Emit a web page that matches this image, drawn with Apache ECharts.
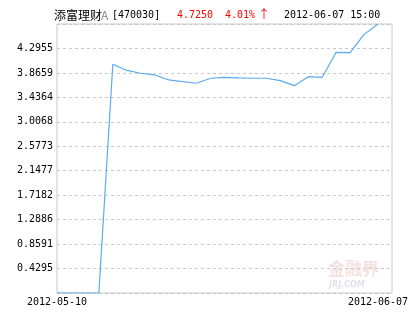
<!DOCTYPE html>
<html>
<head>
<meta charset="utf-8">
<script src="https://cdn.jsdelivr.net/npm/echarts@6/dist/echarts.min.js"></script>
<style>
html,body{margin:0;padding:0;background:#fff;}
#c{width:415px;height:330px;}
</style>
</head>
<body>
<div id="c"></div>
<script>
var fundName = '添富理财';
var fundClass = 'A';
var fundCode = '[470030]';
var lastValue = '4.7250';
var changePct = '4.01%';
var changeArrow = '↑';
var lastTime = '2012-06-07 15:00';

var dates = [
  '2012-05-10','2012-05-11','2012-05-13','2012-05-14','2012-05-15','2012-05-16',
  '2012-05-17','2012-05-18','2012-05-20','2012-05-21','2012-05-22','2012-05-23',
  '2012-05-24','2012-05-25','2012-05-27','2012-05-28','2012-05-29','2012-05-30',
  '2012-05-31','2012-06-01','2012-06-04','2012-06-05','2012-06-06','2012-06-07'
];
var values = [
  0, 0, 0, 0, 4.018, 3.909, 3.860, 3.830, 3.742, 3.712, 3.684, 3.772,
  3.789, 3.777, 3.772, 3.772, 3.730, 3.642, 3.800, 3.789, 4.228, 4.221, 4.543, 4.725
];
var yMin = 0;
var yMax = 4.725;
var ySteps = 11;

var cats = dates.concat(['']);
var lastIdx = dates.length - 1;
var mono = '"DejaVu Sans Mono", "Liberation Mono", monospace';

var chart = echarts.init(document.getElementById('c'), null, {renderer: 'canvas'});
chart.setOption({
  animation: false,
  backgroundColor: '#fff',
  grid: {left: 57, right: 23, top: 24, bottom: 37, show: true, borderColor: '#c8c8c8', borderWidth: 1},
  graphic: [
    {type: 'text', left: 54, top: 9, style: {text: fundName, font: '12px "Noto Sans CJK SC"', fill: '#000'}},
    {type: 'text', left: 101, top: 9, style: {text: fundClass, font: '12px "Noto Sans CJK SC"', fill: '#888'}},
    {type: 'text', left: 112, top: 10, style: {text: fundCode, font: '10px ' + mono, fill: '#000'}},
    {type: 'text', left: 177, top: 10, style: {text: lastValue, font: '10px ' + mono, fill: '#f00'}},
    {type: 'text', left: 225, top: 10, style: {text: changePct, font: '10px ' + mono, fill: '#f00'}},
    {type: 'text', left: 258, top: 8, style: {text: changeArrow, font: '12px "Noto Sans CJK SC"', fill: '#f00'}},
    {type: 'text', left: 284, top: 10, style: {text: lastTime, font: '10px ' + mono, fill: '#000'}},
    {type: 'text', left: 328, top: 260, z: -1, style: {text: '金融界', font: 'bold 17px "Noto Sans CJK SC"', fill: 'rgba(230,170,170,0.35)'}},
    {type: 'text', left: 329, top: 281, z: -1, style: {text: 'JRJ.COM', font: 'italic bold 8px "DejaVu Sans"', fill: 'rgba(180,180,200,0.4)'}}
  ],
  xAxis: {
    type: 'category',
    data: cats,
    boundaryGap: false,
    axisLine: {show: false},
    axisTick: {show: false},
    splitLine: {show: false},
    axisLabel: {
      interval: function (i) { return i === 0 || i === lastIdx; },
      color: '#000',
      fontFamily: mono,
      fontSize: 10,
      margin: 4
    }
  },
  yAxis: {
    type: 'value',
    min: yMin,
    max: yMax,
    interval: (yMax - yMin) / ySteps,
    axisLine: {show: false},
    axisTick: {show: false},
    splitLine: {show: true, lineStyle: {color: '#c8c8c8', type: [3, 3], width: 1}},
    axisLabel: {
      color: '#000',
      fontFamily: mono,
      fontSize: 10,
      margin: 4,
      formatter: function (v) {
        if (v <= yMin + 1e-9 || v >= yMax - 1e-6) return '';
        return v.toFixed(4);
      }
    }
  },
  series: [{
    type: 'line',
    data: values,
    symbol: 'none',
    smooth: false,
    lineStyle: {color: '#5aaaf5', width: 1.2},
    itemStyle: {color: '#5aaaf5'}
  }]
});
</script>
</body>
</html>
